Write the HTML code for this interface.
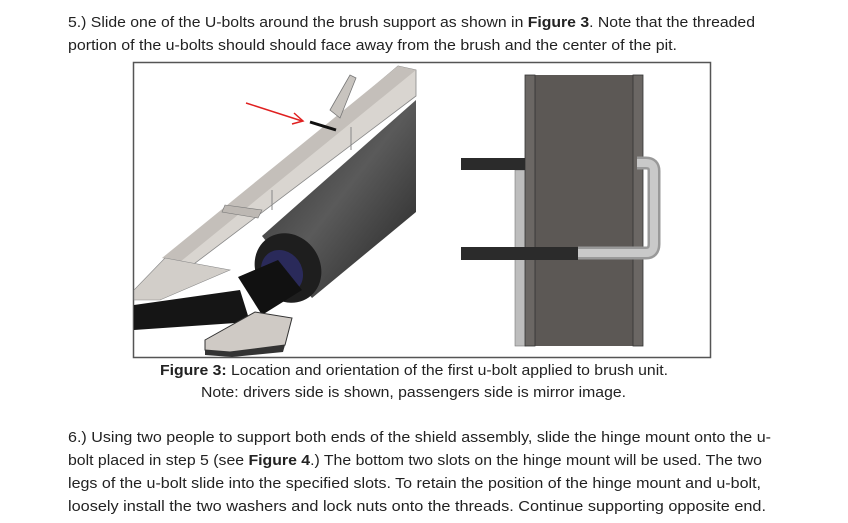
<!DOCTYPE html>
<html><head><meta charset="utf-8"><style>
html,body{margin:0;padding:0;background:#fff;}
svg{display:block;}
text{font-family:"Liberation Sans",sans-serif;font-size:15px;fill:#222;}
</style></head><body>
<svg width="848" height="523" viewBox="0 0 848 523" xmlns="http://www.w3.org/2000/svg">
<text x="68" y="27" textLength="687" lengthAdjust="spacingAndGlyphs">5.) Slide one of the U-bolts around the brush support as shown in <tspan font-weight="bold">Figure 3</tspan>. Note that the threaded</text>
<text x="68" y="50" textLength="609" lengthAdjust="spacingAndGlyphs">portion of the u-bolts should  should face away from the brush and the center of the pit.</text>

<rect x="133.5" y="62.5" width="577" height="295" fill="#fff" stroke="#555" stroke-width="1.5"/>
<!-- left image -->
<defs>
<linearGradient id="cyl" x1="0" y1="0" x2="1" y2="1"><stop offset="0" stop-color="#2a2a2a"/><stop offset="0.5" stop-color="#5a5a5a"/><stop offset="1" stop-color="#222"/></linearGradient>
</defs>
<polygon points="416,100 416,212 312,298 262,236" fill="url(#cyl)"/>
<ellipse cx="288" cy="268" rx="32" ry="36" fill="#1e1e1e" transform="rotate(-35 288 268)"/>
<ellipse cx="282" cy="272" rx="20" ry="23" fill="#2a2a5a" transform="rotate(-35 282 272)"/>
<polygon points="398,66 416,70 416,96 186,270 160,268" fill="#d9d5d0" stroke="#888" stroke-width="0.8"/>
<polygon points="398,66 416,70 180,262 162,258" fill="#c4bfba"/>
<line x1="351" y1="127" x2="351" y2="150" stroke="#888"/>
<line x1="272" y1="190" x2="272" y2="210" stroke="#888"/>
<polygon points="330,110 350,75 356,78 340,118" fill="#c8c4bf" stroke="#777" stroke-width="0.8"/>
<line x1="310" y1="122" x2="336" y2="130" stroke="#111" stroke-width="3"/>
<line x1="246" y1="103" x2="302" y2="121" stroke="#e02020" stroke-width="1.5"/>
<polyline points="294,113 303,121 292,124" fill="none" stroke="#e02020" stroke-width="1.5"/>
<polygon points="225,205 262,210 258,218 222,212" fill="#bdb8b3" stroke="#777" stroke-width="0.6"/>
<polygon points="165,258 230,270 160,300 134,300 134,290" fill="#d2cec9" stroke="#888" stroke-width="0.6"/>
<polygon points="134,305 240,290 250,322 134,330" fill="#151515"/>
<polygon points="238,277 278,260 302,290 262,315" fill="#111"/>
<polygon points="205,340 255,312 292,318 285,345 230,352 205,350" fill="#cfcac5" stroke="#333" stroke-width="1"/>
<polygon points="205,350 230,352 285,345 283,352 232,357 205,355" fill="#333"/>
<!-- right image -->
<rect x="515" y="170" width="11" height="176" fill="#bdbdbd" stroke="#777" stroke-width="0.6"/>
<rect x="525" y="75" width="118" height="271" fill="#5c5855"/>
<rect x="525" y="75" width="10" height="271" fill="#6b6764" stroke="#333" stroke-width="0.8"/>
<rect x="633" y="75" width="10" height="271" fill="#6b6764" stroke="#333" stroke-width="0.8"/>
<path d="M637,163 L646,163 Q654,163 654,171 L654,244 Q654,253 646,253 L578,253" fill="none" stroke="#999" stroke-width="13"/>
<path d="M637,163 L646,163 Q654,163 654,171 L654,244 Q654,253 646,253 L578,253" fill="none" stroke="#c9c9c9" stroke-width="8"/>
<rect x="461" y="158" width="64" height="12" fill="#2b2b2b"/>
<rect x="461" y="247" width="117" height="13" fill="#2b2b2b"/>
</svg>
<svg width="848" height="0"></svg>
<div style="position:absolute;left:0;top:0;width:848px;height:523px;pointer-events:none">
<svg width="848" height="523" xmlns="http://www.w3.org/2000/svg">
<text x="160" y="375" textLength="508" lengthAdjust="spacingAndGlyphs"><tspan font-weight="bold">Figure 3:</tspan> Location and orientation of the first u-bolt applied to brush unit.</text>
<text x="201" y="397" textLength="425" lengthAdjust="spacingAndGlyphs">Note: drivers side is shown, passengers side is mirror image.</text>
<text x="68" y="442" textLength="703" lengthAdjust="spacingAndGlyphs">6.) Using two people to support both ends of the shield assembly, slide the hinge mount onto the u-</text>
<text x="68" y="465" textLength="694" lengthAdjust="spacingAndGlyphs">bolt placed in step 5 (see <tspan font-weight="bold">Figure 4</tspan>.) The bottom two slots on the hinge mount will be used. The two</text>
<text x="68" y="488" textLength="693" lengthAdjust="spacingAndGlyphs">legs of the u-bolt slide into the specified slots. To retain the position of the hinge mount and u-bolt,</text>
<text x="68" y="511" textLength="698" lengthAdjust="spacingAndGlyphs">loosely install the two washers and lock nuts onto the threads. Continue supporting opposite end.</text>
</svg></div>
</body></html>
